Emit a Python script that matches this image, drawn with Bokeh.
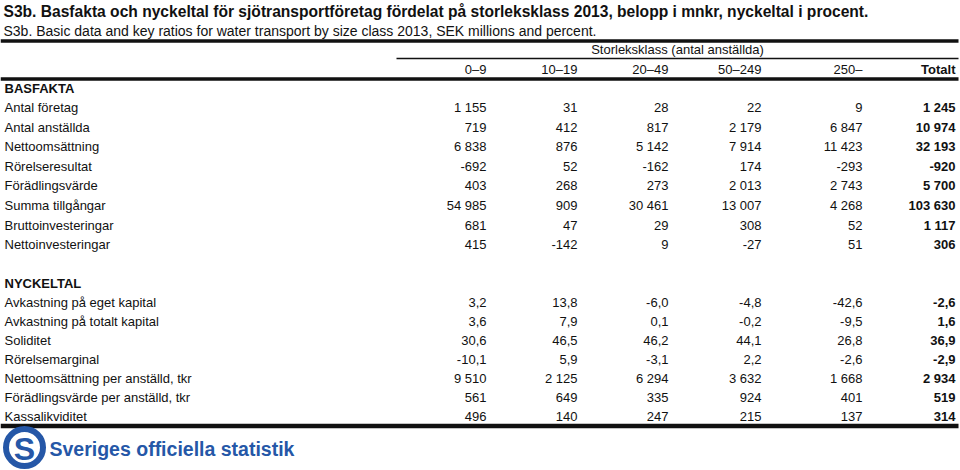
from bokeh.plotting import figure
from bokeh.models import Range1d, ColumnDataSource
from bokeh.core.properties import value
from bokeh.embed import file_html
from bokeh.resources import INLINE

# ---------------- data ----------------
title_sv = "S3b. Basfakta och nyckeltal för sjötransportföretag fördelat på storleksklass 2013, belopp i mnkr, nyckeltal i procent."
title_en = "S3b. Basic data and key ratios for water transport by size class 2013, SEK millions and percent."
group_header = "Storleksklass (antal anställda)"
column_labels = ["0\u20139", "10\u201319", "20\u201349", "50\u2013249", "250\u2013", "Totalt"]

section_basfakta = "BASFAKTA"
basfakta_rows = ["Antal företag", "Antal anställda", "Nettoomsättning", "Rörelseresultat",
                 "Förädlingsvärde", "Summa tillgångar", "Bruttoinvesteringar", "Nettoinvesteringar"]
basfakta_0_9 = [1155, 719, 6838, -692, 403, 54985, 681, 415]
basfakta_10_19 = [31, 412, 876, 52, 268, 909, 47, -142]
basfakta_20_49 = [28, 817, 5142, -162, 273, 30461, 29, 9]
basfakta_50_249 = [22, 2179, 7914, 174, 2013, 13007, 308, -27]
basfakta_250 = [9, 6847, 11423, -293, 2743, 4268, 52, 51]
basfakta_total = [1245, 10974, 32193, -920, 5700, 103630, 1117, 306]

section_nyckeltal = "NYCKELTAL"
nyckeltal_rows = ["Avkastning på eget kapital", "Avkastning på totalt kapital", "Soliditet",
                  "Rörelsemarginal", "Nettoomsättning per anställd, tkr",
                  "Förädlingsvärde per anställd, tkr", "Kassalikviditet"]
nyckeltal_decimals = [1, 1, 1, 1, 0, 0, 0]
nyckeltal_0_9 = [3.2, 3.6, 30.6, -10.1, 9510, 561, 496]
nyckeltal_10_19 = [13.8, 7.9, 46.5, 5.9, 2125, 649, 140]
nyckeltal_20_49 = [-6.0, 0.1, 46.2, -3.1, 6294, 335, 247]
nyckeltal_50_249 = [-4.8, -0.2, 44.1, 2.2, 3632, 924, 215]
nyckeltal_250 = [-42.6, -9.5, 26.8, -2.6, 1668, 401, 137]
nyckeltal_total = [-2.6, 1.6, 36.9, -2.9, 2934, 519, 314]

logo_text = "Sveriges officiella statistik"

# ---------------- helpers ----------------
def fmt(v, dec):
    if dec == 0:
        s = f"{abs(int(round(v))):,}".replace(",", " ")
        return ("-" if v < 0 else "") + s
    return f"{v:.{dec}f}".replace(".", ",")

FONT = value("Liberation Sans")
BLACK = "#111111"

# layout constants (reference pixel space)
col_right = [486, 577, 668, 761, 862, 955]
label_x = 4
bas_y0, bas_dy = 107, 19.6
nyc_y0, nyc_dy = 302, 19.0

p = figure(width=960, height=470, output_backend="svg", toolbar_location=None,
           x_range=Range1d(0, 960), y_range=Range1d(470, 0),
           min_border=0, min_border_left=0, min_border_right=0,
           min_border_top=0, min_border_bottom=0)
p.axis.visible = False
p.grid.visible = False
p.outline_line_color = None
p.background_fill_color = "white"
p.border_fill_color = "white"

# titles
p.text(x=[3], y=[11], text=[title_sv], text_font=FONT, text_font_size="15.6px",
       text_font_style="bold", text_baseline="middle", text_color=BLACK)
p.text(x=[3], y=[30], text=[title_en], text_font=FONT, text_font_size="14px",
       text_baseline="middle", text_color=BLACK)

# rules
p.segment(x0=[0], y0=[40.5], x1=[958], y1=[40.5], line_width=3.5, line_color=BLACK)
p.segment(x0=[396], y0=[58], x1=[958], y1=[58], line_width=1.3, line_color=BLACK)
p.segment(x0=[0], y0=[78.5], x1=[958], y1=[78.5], line_width=3.5, line_color=BLACK)
p.segment(x0=[0], y0=[425.5], x1=[958], y1=[425.5], line_width=4.5, line_color=BLACK)

# header
p.text(x=[677], y=[49], text=[group_header], text_font=FONT,
       text_font_size="13px", text_align="center", text_baseline="middle", text_color=BLACK)
hdr_style = ["normal"] * 5 + ["bold"]
p.text(x=col_right, y=[69] * 6, text=column_labels, text_font=FONT, text_font_size="13px",
       text_align="right", text_baseline="middle", text_color=BLACK,
       text_font_style=hdr_style)

# sections
p.text(x=[label_x], y=[88], text=[section_basfakta], text_font=FONT, text_font_size="13px",
       text_font_style="bold", text_baseline="middle", text_color=BLACK)
p.text(x=[label_x], y=[283], text=[section_nyckeltal], text_font=FONT, text_font_size="13px",
       text_font_style="bold", text_baseline="middle", text_color=BLACK)

bas_cols = [basfakta_0_9, basfakta_10_19, basfakta_20_49, basfakta_50_249, basfakta_250, basfakta_total]
nyc_cols = [nyckeltal_0_9, nyckeltal_10_19, nyckeltal_20_49, nyckeltal_50_249, nyckeltal_250, nyckeltal_total]

bas_y = [bas_y0 + i * bas_dy for i in range(len(basfakta_rows))]
nyc_y = [nyc_y0 + i * nyc_dy for i in range(len(nyckeltal_rows))]

p.text(x=[label_x] * len(basfakta_rows), y=bas_y, text=basfakta_rows, text_font=FONT,
       text_font_size="13px", text_baseline="middle", text_color=BLACK)
p.text(x=[label_x] * len(nyckeltal_rows), y=nyc_y, text=nyckeltal_rows, text_font=FONT,
       text_font_size="13px", text_baseline="middle", text_color=BLACK)

for ci, col in enumerate(bas_cols):
    src = ColumnDataSource(dict(x=[col_right[ci]] * len(col), y=bas_y,
                                t=[fmt(v, 0) for v in col]))
    p.text(x="x", y="y", text="t", source=src, text_font=FONT, text_font_size="13px",
           text_align="right", text_baseline="middle", text_color=BLACK,
           text_font_style="bold" if ci == 5 else "normal")

for ci, col in enumerate(nyc_cols):
    src = ColumnDataSource(dict(x=[col_right[ci]] * len(col), y=nyc_y,
                                t=[fmt(v, d) for v, d in zip(col, nyckeltal_decimals)]))
    p.text(x="x", y="y", text="t", source=src, text_font=FONT, text_font_size="13px",
           text_align="right", text_baseline="middle", text_color=BLACK,
           text_font_style="bold" if ci == 5 else "normal")

# logo
BLUE = "#2557a7"
p.scatter(x=[24], y=[447], size=37, marker="circle", fill_color="white",
          line_color=BLUE, line_width=6)
p.text(x=[24], y=[448], text=["S"], text_font=FONT, text_font_size="32px",
       text_font_style="bold", text_align="center", text_baseline="middle", text_color=BLUE)
p.text(x=[49], y=[448], text=[logo_text], text_font=FONT,
       text_font_size="19.5px", text_font_style="bold", text_baseline="middle", text_color=BLUE)

open("out.html", "w").write(file_html(p, INLINE))
